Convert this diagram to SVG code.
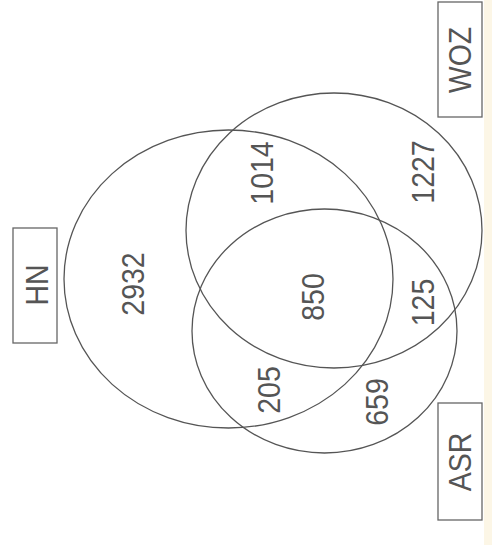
<svg xmlns="http://www.w3.org/2000/svg" width="492" height="545" viewBox="0 0 492 545">
<style>
.set{fill:none;stroke:#555;stroke-width:1.3}
.box{fill:none;stroke:#666;stroke-width:1.3}
.lbl{font-family:"Liberation Sans",Arial,sans-serif;font-size:28.5px;fill:#555;text-anchor:middle;dominant-baseline:central}
</style>
<rect x="0" y="0" width="492" height="545" fill="#ffffff"/>
<rect x="484" y="0" width="8" height="545" fill="#fcf6e6"/>
<g id="HN">
<ellipse class="set" cx="228.5" cy="279" rx="164.5" ry="149"/>
<rect class="box" x="13" y="228" width="44" height="115"/>
<text class="lbl" transform="translate(37,285) rotate(-90) scale(1,1.1)">HN</text>
</g>
<g id="WOZ">
<ellipse class="set" cx="334" cy="230.5" rx="148" ry="137.5"/>
<rect class="box" x="438" y="2" width="44" height="115"/>
<text class="lbl" transform="translate(460.5,60) rotate(-90) scale(1,1.1)">WOZ</text>
</g>
<g id="ASR">
<ellipse class="set" cx="324.5" cy="331" rx="132.5" ry="122"/>
<rect class="box" x="438" y="403" width="44" height="117"/>
<text class="lbl" transform="translate(460.5,462) rotate(-90) scale(1,1.1)">ASR</text>
</g>
<g id="counts">
<text class="lbl" transform="translate(133.3,284) rotate(-90) scale(1,1.1)">2932</text>
<text class="lbl" transform="translate(312.8,297) rotate(-90) scale(1,1.1)">850</text>
<text class="lbl" transform="translate(262.2,173) rotate(-90) scale(1,1.1)">1014</text>
<text class="lbl" transform="translate(422.7,172) rotate(-90) scale(1,1.1)">1227</text>
<text class="lbl" transform="translate(422.7,302.5) rotate(-90) scale(1,1.1)">125</text>
<text class="lbl" transform="translate(268.7,390) rotate(-90) scale(1,1.1)">205</text>
<text class="lbl" transform="translate(377.5,402) rotate(-90) scale(1,1.1)">659</text>
</g>
<g id="connectors"></g>
</svg>
